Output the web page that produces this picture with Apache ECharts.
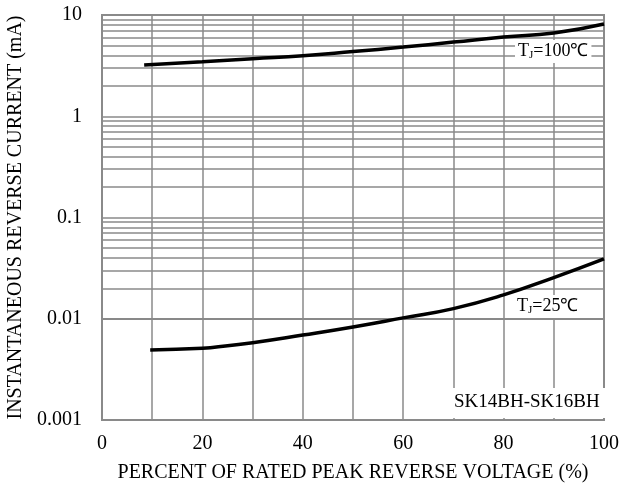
<!DOCTYPE html>
<html>
<head>
    <meta charset="utf-8">
    <script src="https://cdn.jsdelivr.net/npm/echarts@6/dist/echarts.min.js"></script>
    <style>
        body { margin: 0; background: #fff; }
        #chart { width: 638px; height: 485px; }
    </style>
</head>
<body>
<div id="chart"></div>
<script>
    // percent of rated peak reverse voltage
    const x100 = [8.4, 20, 30, 40, 50, 60, 70, 80, 90, 100]
    const i100 = [3.2, 3.45, 3.7, 3.95, 4.35, 4.82, 5.4, 6.06, 6.64, 8.15]
    const x25 = [9.6, 20, 22, 30, 40, 50, 60, 70, 80, 90, 100]
    const i25 = [0.0049, 0.0051, 0.0052, 0.0058, 0.0069, 0.0083, 0.0102, 0.0126, 0.0172, 0.0255, 0.039]
    const yTicks = [0.001, 0.01, 0.1, 1, 10]
    const minorMult = [2, 3, 4, 5, 6, 7, 8, 9]

    const font = "'Liberation Serif', 'Times New Roman', serif"
    const gridColor = '#8a8a8a'

    const minorLines = []
    yTicks.slice(0, -1).forEach(d => {
        minorMult.forEach(m => minorLines.push({ yAxis: +(d * m).toPrecision(3) }))
    })

    const chart = echarts.init(document.getElementById('chart'))
    const option = {
        animation: false,
        grid: {
            left: 102, right: 34, top: 15, bottom: 65,
            containLabel: false, outerBoundsMode: 'none',
            show: true, borderColor: gridColor, borderWidth: 2
        },
        xAxis: {
            type: 'value', min: 0, max: 100, interval: 10,
            name: 'PERCENT OF RATED PEAK REVERSE VOLTAGE (%)',
            nameLocation: 'middle', nameGap: 43,
            nameTextStyle: { fontFamily: font, fontSize: 20, color: '#000' },
            axisLine: { show: false },
            axisTick: { show: false },
            axisLabel: {
                fontFamily: font, fontSize: 20, color: '#000', margin: 14,
                formatter: v => (v % 20 === 0 ? v : '')
            },
            splitLine: { lineStyle: { color: gridColor, width: 1.5 } }
        },
        yAxis: {
            type: 'log', min: 0.001, max: 10, logBase: 10,
            name: 'INSTANTANEOUS REVERSE CURRENT (mA)',
            nameLocation: 'middle', nameGap: 65, nameRotate: 90,
            nameTextStyle: { fontFamily: font, fontSize: 20, color: '#000' },
            axisLine: { show: false },
            axisTick: { show: false },
            axisLabel: {
                fontFamily: font, fontSize: 20, color: '#000', margin: 20,
                formatter: v => String(+v.toPrecision(3))
            },
            splitLine: { lineStyle: { color: gridColor, width: 1.5 } }
        },
        series: [
            {
                type: 'line', smooth: true, showSymbol: false,
                lineStyle: { color: '#000', width: 3.5 },
                data: x100.map((x, i) => [x, i100[i]]),
                z: 5,
                markLine: {
                    silent: true, symbol: 'none', label: { show: false },
                    lineStyle: { color: gridColor, width: 1.5, type: 'solid' },
                    data: minorLines, z: 1
                }
            },
            {
                type: 'line', smooth: true, showSymbol: false,
                lineStyle: { color: '#000', width: 3.5 },
                data: x25.map((x, i) => [x, i25[i]]),
                z: 5
            }
        ],
        graphic: [
            {
                type: 'text', left: 515, top: 40, z: 10,
                style: {
                    text: '{a|T}{s|J}{a|=100℃}',
                    backgroundColor: '#fff', padding: [2, 3],
                    rich: {
                        a: { fontFamily: font, fontSize: 18, fill: '#000' },
                        s: { fontFamily: font, fontSize: 11, fill: '#000', padding: [8, 0, 0, 0] }
                    }
                }
            },
            {
                type: 'text', left: 514, top: 295, z: 10,
                style: {
                    text: '{a|T}{s|J}{a|=25℃}',
                    backgroundColor: '#fff', padding: [2, 3],
                    rich: {
                        a: { fontFamily: font, fontSize: 18, fill: '#000' },
                        s: { fontFamily: font, fontSize: 11, fill: '#000', padding: [8, 0, 0, 0] }
                    }
                }
            },
            {
                type: 'text', left: 448, top: 388, z: 10,
                style: {
                    text: 'SK14BH-SK16BH',
                    fontFamily: font, fontSize: 19, fill: '#000',
                    backgroundColor: '#fff', padding: [5, 8, 6, 6]
                }
            }
        ]
    }
    chart.setOption(option)
</script>
</body>
</html>
